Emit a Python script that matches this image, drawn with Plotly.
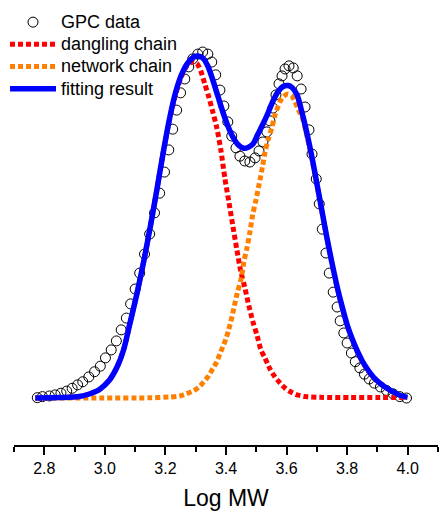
import plotly.graph_objects as go

# GPC data (log MW, normalized intensity)
gpc_x = [2.777, 2.794, 2.817, 2.836, 2.855, 2.874, 2.892, 2.910, 2.927, 2.947,
         2.966, 2.985, 3.002, 3.021, 3.038, 3.054, 3.071, 3.085, 3.100, 3.115,
         3.131, 3.148, 3.164, 3.181, 3.197, 3.211, 3.224, 3.237, 3.250, 3.264,
         3.277, 3.290, 3.307, 3.323, 3.340, 3.353, 3.366, 3.380, 3.393, 3.406,
         3.419, 3.433, 3.446, 3.462, 3.479, 3.496, 3.509, 3.522, 3.535, 3.545,
         3.555, 3.565, 3.575, 3.585, 3.595, 3.608, 3.622, 3.635, 3.648, 3.661,
         3.674, 3.684, 3.698, 3.708, 3.718, 3.730, 3.741, 3.754, 3.767, 3.777,
         3.789, 3.800, 3.814, 3.827, 3.842, 3.857, 3.873, 3.890, 3.910, 3.930,
         3.952, 3.974, 3.996]
gpc_y = [0.001, 0.004, 0.006, 0.009, 0.014, 0.020, 0.028, 0.038, 0.047, 0.061,
         0.076, 0.092, 0.116, 0.139, 0.165, 0.197, 0.231, 0.272, 0.315, 0.361,
         0.416, 0.474, 0.535, 0.592, 0.653, 0.717, 0.777, 0.832, 0.882, 0.922,
         0.957, 0.980, 0.994, 1.000, 0.994, 0.971, 0.934, 0.890, 0.844, 0.798,
         0.757, 0.723, 0.699, 0.685, 0.682, 0.694, 0.714, 0.740, 0.769, 0.801,
         0.838, 0.876, 0.908, 0.931, 0.951, 0.960, 0.954, 0.931, 0.893, 0.841,
         0.775, 0.705, 0.633, 0.561, 0.488, 0.419, 0.361, 0.306, 0.263, 0.223,
         0.188, 0.159, 0.130, 0.105, 0.087, 0.069, 0.055, 0.043, 0.032, 0.022,
         0.012, 0.004, 0.000]

# Dangling chain component
dang_x = [2.7702, 2.8497, 2.9159, 2.9491, 2.9822, 3.0153, 3.0418, 3.0617, 3.0816,
          3.1048, 3.1279, 3.1511, 3.1727, 3.1942, 3.2140, 3.2339, 3.2538, 3.2704,
          3.2869, 3.3035, 3.3167, 3.3300, 3.3432, 3.3565, 3.3697, 3.3830, 3.3962,
          3.4095, 3.4227, 3.4360, 3.4492, 3.4625, 3.4757, 3.4890, 3.5022, 3.5155,
          3.5287, 3.5453, 3.5618, 3.5784, 3.5950, 3.6115, 3.6314, 3.6612, 3.7109,
          3.8103, 3.9097, 3.9991]
dang_y = [0.0, 0.0014, 0.0043, 0.0116, 0.0246, 0.0520, 0.0925, 0.1387, 0.2110,
          0.2977, 0.3931, 0.5000, 0.6069, 0.7168, 0.8064, 0.8786, 0.9306, 0.9595,
          0.9711, 0.9668, 0.9451, 0.9075, 0.8699, 0.8266, 0.7803, 0.7168, 0.6358,
          0.5665, 0.4971, 0.4277, 0.3642, 0.3179, 0.2659, 0.2197, 0.1821, 0.1387,
          0.1156, 0.0838, 0.0607, 0.0434, 0.0289, 0.0188, 0.0101, 0.0043, 0.0020,
          0.0014, 0.0014, 0.0014]

# Network chain component
net_x = [2.7702, 2.9822, 3.1478, 3.2140, 3.2472, 3.2637, 3.2869, 3.3101, 3.3267,
         3.3432, 3.3565, 3.3697, 3.3797, 3.3896, 3.3995, 3.4078, 3.4144, 3.4204,
         3.4260, 3.4370, 3.4502, 3.4592, 3.4701, 3.4791, 3.4880, 3.4989, 3.5099,
         3.5205, 3.5287, 3.5387, 3.5509, 3.5618, 3.5784, 3.5893, 3.6016, 3.6172,
         3.6281, 3.6390, 3.6513, 3.6678, 3.6844, 3.7010, 3.7175, 3.7341, 3.7507,
         3.7672, 3.7838, 3.8003, 3.8169, 3.8335, 3.8500, 3.8666, 3.8865, 3.9097,
         3.9328, 3.9560, 3.9759, 3.9991]
net_y = [0.0, 0.0, 0.0006, 0.0029, 0.0058, 0.0107, 0.0182, 0.0309, 0.0471,
         0.0645, 0.0858, 0.1049, 0.1272, 0.1483, 0.1705, 0.1936, 0.2159, 0.2370,
         0.2601, 0.3026, 0.3460, 0.3939, 0.4373, 0.4806, 0.5289, 0.5723, 0.6205,
         0.6685, 0.7095, 0.7457, 0.7795, 0.8179, 0.8564, 0.8708, 0.8777, 0.8728,
         0.8564, 0.8324, 0.8121, 0.7543, 0.6879, 0.6113, 0.5347, 0.4566, 0.3844,
         0.3179, 0.2601, 0.2081, 0.1676, 0.1329, 0.1040, 0.0809, 0.0578, 0.0405,
         0.0260, 0.0145, 0.0058, 0.0014]

# Fitting result
fit_x = [2.7702, 2.8497, 2.9159, 2.9491, 2.9822, 3.0153, 3.0418, 3.0617, 3.0816,
         3.1048, 3.1279, 3.1511, 3.1727, 3.1942, 3.2140, 3.2339, 3.2538, 3.2737,
         3.2935, 3.3068, 3.3234, 3.3399, 3.3565, 3.3730, 3.3896, 3.4062, 3.4227,
         3.4393, 3.4559, 3.4724, 3.4890, 3.5055, 3.5221, 3.5387, 3.5552, 3.5718,
         3.5884, 3.6049, 3.6182, 3.6347, 3.6513, 3.6678, 3.6844, 3.7010, 3.7175,
         3.7341, 3.7507, 3.7672, 3.7838, 3.8003, 3.8169, 3.8335, 3.8500, 3.8666,
         3.8865, 3.9097, 3.9328, 3.9560, 3.9759, 3.9991]
fit_y = [0.0, 0.0014, 0.0043, 0.0116, 0.0246, 0.0520, 0.0925, 0.1387, 0.2110,
         0.2977, 0.3931, 0.5000, 0.6069, 0.7168, 0.8092, 0.8844, 0.9364, 0.9682,
         0.9855, 0.9884, 0.9827, 0.9595, 0.9191, 0.8728, 0.8266, 0.7861, 0.7543,
         0.7327, 0.7225, 0.7240, 0.7341, 0.7630, 0.7919, 0.8237, 0.8584, 0.8858,
         0.9003, 0.9032, 0.8974, 0.8757, 0.8237, 0.7630, 0.6936, 0.6156, 0.5376,
         0.4595, 0.3873, 0.3208, 0.2630, 0.2110, 0.1705, 0.1358, 0.1069, 0.0838,
         0.0607, 0.0419, 0.0275, 0.0159, 0.0072, 0.0020]

tick_vals = [2.8, 3.0, 3.2, 3.4, 3.6, 3.8, 4.0]
tick_text = ["2.8", "3.0", "3.2", "3.4", "3.6", "3.8", "4.0"]

FONT = "Liberation Sans, Arial, sans-serif"


def lbl(s):
    return '<span style="font-size:18px">' + s + '</span>'


fig = go.Figure()
fig.add_trace(go.Scatter(
    x=gpc_x, y=gpc_y, mode="markers", name=lbl("GPC data"),
    marker=dict(symbol="circle-open", size=10, color="black",
                line=dict(color="black", width=1))))
fig.add_trace(go.Scatter(
    x=dang_x, y=dang_y, mode="lines", name=lbl("dangling chain"),
    line=dict(color="#FF0000", width=5, dash="5px,3px", shape="spline", smoothing=0.8)))
fig.add_trace(go.Scatter(
    x=net_x, y=net_y, mode="lines", name=lbl("network chain"),
    line=dict(color="#FF8000", width=5, dash="5px,3px", shape="spline", smoothing=0.8)))
fig.add_trace(go.Scatter(
    x=fit_x, y=fit_y, mode="lines", name=lbl("fitting result"),
    line=dict(color="#0000FF", width=5.5, shape="spline", smoothing=0.8)))

fig.update_layout(
    width=440, height=513,
    margin=dict(l=14, r=2, t=10, b=68, autoexpand=False),
    paper_bgcolor="white", plot_bgcolor="white",
    font=dict(family=FONT, color="black"),
    showlegend=True,
    legend=dict(
        xref="container", yref="container",
        x=5 / 440, y=1 - 6 / 513, xanchor="left", yanchor="top",
        bgcolor="rgba(0,0,0,0)", borderwidth=0,
        font=dict(family=FONT, size=14.8, color="black"),
        itemwidth=46, tracegroupgap=0,
    ),
    xaxis=dict(
        range=[2.7, 4.1], showgrid=False, zeroline=False,
        showline=True, linecolor="black", linewidth=1.5,
        ticks="outside", ticklen=8, tickwidth=1.5, tickcolor="black",
        tickvals=tick_vals, ticktext=tick_text,
        tickfont=dict(family=FONT, size=16, color="black"),
        minor=dict(dtick=0.1, tick0=2.7, ticks="outside", ticklen=5,
                   tickwidth=1.5, tickcolor="black", showgrid=False),
        title=dict(text="Log MW", font=dict(family=FONT, size=23, color="black"),
                   standoff=14),
    ),
    yaxis=dict(range=[-0.1358, 1.1214], visible=False, showgrid=False, zeroline=False),
)

fig.write_html("out.html")
